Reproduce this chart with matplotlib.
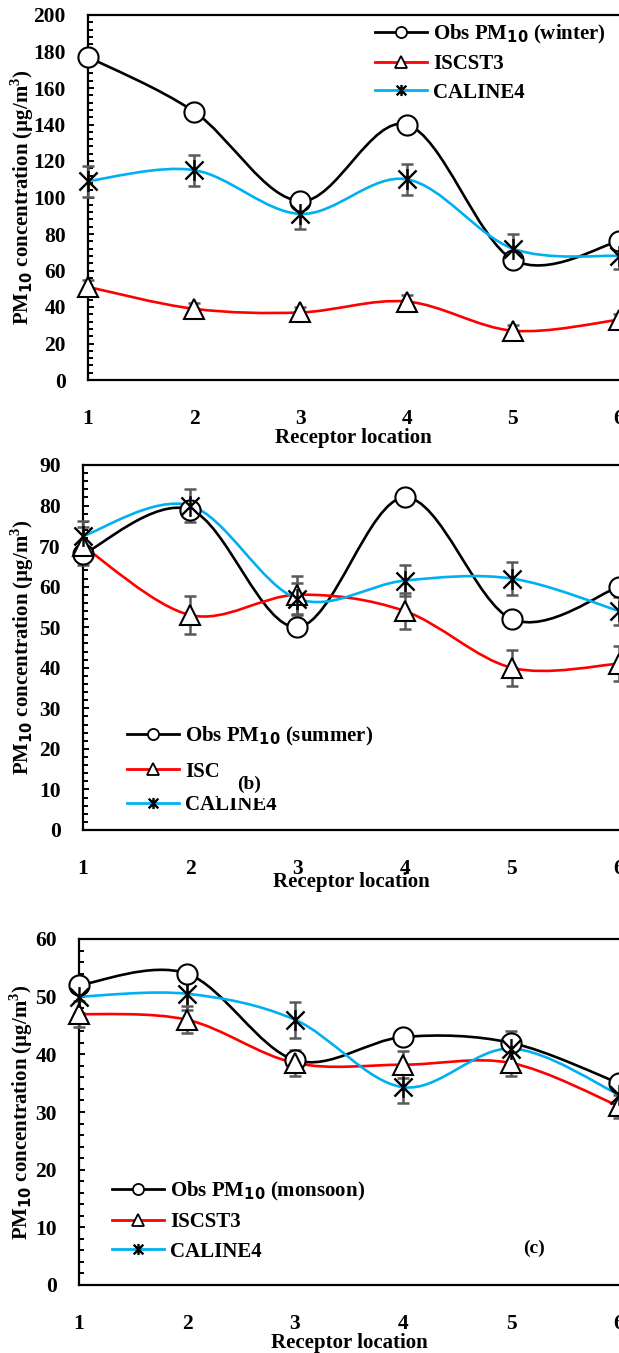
import matplotlib
matplotlib.use("Agg")
import matplotlib.pyplot as plt
from matplotlib.path import Path
from matplotlib.patches import PathPatch, Rectangle
from matplotlib.lines import Line2D
from matplotlib.ticker import MultipleLocator

plt.rcParams['font.family'] = ['Liberation Serif', 'DejaVu Serif']
plt.rcParams['font.weight'] = 'bold'
plt.rcParams['axes.labelweight'] = 'bold'
plt.rcParams['mathtext.fontset'] = 'custom'
plt.rcParams['mathtext.rm'] = 'Liberation Serif:bold'
plt.rcParams['mathtext.sf'] = 'DejaVu Sans:bold'

locations = [1, 2, 3, 4, 5, 6]

# winter (a)
obs_winter = [177, 147, 98, 140, 66, 76]
isc_winter = [51, 39, 37, 43, 27, 33]
isc_winter_err = [4, 3, 3, 3.5, 3, 3]
cal_winter = [109, 115, 91, 110, 72, 68]
cal_winter_err = [8.5, 8.5, 8.5, 8.5, 8, 7]

# summer (b)
obs_summer = [68, 79, 50, 82, 52, 60]
isc_summer = [70, 53, 58, 54, 40, 41]
isc_summer_err = [4.7, 4.6, 4.7, 4.5, 4.5, 4.3]
cal_summer = [72.5, 80, 57, 61.5, 62, 54]
cal_summer_err = [3.7, 4, 4, 3.8, 4, 3.5]

# monsoon (c)
obs_monsoon = [52, 54, 39, 43, 42, 35]
isc_monsoon = [47, 46, 38.5, 38.2, 38.5, 31]
isc_monsoon_err = [2.3, 2.3, 2.3, 2.3, 2.3, 2]
cal_monsoon = [50, 50.5, 46, 34.3, 41, 33]
cal_monsoon_err = [2.8, 2.8, 3.1, 2.8, 3, 2.5]

BLUE = '#00B0F0'
RED = '#FF0000'
GREY = '#595959'
FS = 15

star = Path([(-1, -1), (1, 1), (-1, 1), (1, -1), (0, -1.15), (0, 1.15)],
            [Path.MOVETO, Path.LINETO, Path.MOVETO, Path.LINETO, Path.MOVETO, Path.LINETO])


def smooth_path(x, y):
    # excel-like smoothed line: bezier segments through the points
    pts = list(zip(x, y))
    n = len(pts)
    verts = [pts[0]]
    codes = [Path.MOVETO]
    for i in range(n - 1):
        p0 = pts[max(i - 1, 0)]
        p1 = pts[i]
        p2 = pts[i + 1]
        p3 = pts[min(i + 2, n - 1)]
        c1 = (p1[0] + (p2[0] - p0[0]) / 6, p1[1] + (p2[1] - p0[1]) / 6)
        c2 = (p2[0] - (p3[0] - p1[0]) / 6, p2[1] - (p3[1] - p1[1]) / 6)
        verts += [c1, c2, p2]
        codes += [Path.CURVE4] * 3
    return Path(verts, codes)


def draw_panel(ax, obs, isc, isc_err, cal, cal_err, ymax, major, minor):
    for vals, col in [(obs, 'black'), (isc, RED), (cal, BLUE)]:
        ax.add_patch(PathPatch(smooth_path(locations, vals), fill=False,
                               ec=col, lw=1.9, zorder=2))
    ax.errorbar(locations, isc, yerr=isc_err, fmt='none', ecolor=GREY,
                elinewidth=1.8, capsize=4.5, capthick=1.8, zorder=3, clip_on=False)
    ax.errorbar(locations, cal, yerr=cal_err, fmt='none', ecolor=GREY,
                elinewidth=1.8, capsize=4.5, capthick=1.8, zorder=3, clip_on=False)
    ax.plot(locations, obs, ls='none', marker='o', ms=14.5, mfc='white',
            mec='black', mew=1.5, zorder=4, clip_on=False)
    ax.plot(locations, isc, ls='none', marker='^', ms=14.5, mfc='white',
            mec='black', mew=1.5, zorder=4, clip_on=False)
    ax.plot(locations, cal, ls='none', marker=star, ms=15, mfc='none',
            mec='black', mew=1.7, zorder=5, clip_on=False)

    ax.set_xlim(1, 6)
    ax.set_ylim(0, ymax)
    ax.set_xticks(locations)
    ax.yaxis.set_major_locator(MultipleLocator(major))
    ax.yaxis.set_minor_locator(MultipleLocator(minor))
    ax.tick_params(axis='x', length=0, pad=21, labelsize=FS + 0.5)
    ax.tick_params(axis='y', which='major', direction='in', length=4.5,
                   width=1.4, pad=16, labelsize=FS + 0.5)
    ax.tick_params(axis='y', which='minor', direction='in', length=3.5, width=1.4)
    for s in ['left', 'bottom', 'top']:
        ax.spines[s].set_linewidth(1.6)
    ax.spines['right'].set_visible(False)
    ax.set_ylabel('PM$_{\\mathsf{10}}$ concentration (µg/m$^{\\mathrm{3}}$)',
                  fontsize=FS, fontweight='bold')
    ax.yaxis.label.set_va('center')
    ax.set_xlabel('Receptor location', fontsize=FS, fontweight='bold')
    ax.xaxis.label.set_va('center')


def legend_handles(season):
    labels = ['Obs PM$_{\\mathsf{10}}$ (%s)' % season, 'ISCST3', 'CALINE4']
    h = [Line2D([], [], color='black', lw=2, marker='o', ms=8, mfc='white', mec='black', mew=1.3),
         Line2D([], [], color=RED, lw=2, marker='^', ms=8, mfc='white', mec='black', mew=1.3),
         Line2D([], [], color=BLUE, lw=2, marker=star, ms=8, mfc='none', mec='black', mew=1.7)]
    return h, labels


W, H = 619, 1353
fig = plt.figure(figsize=(W / 100, H / 100), dpi=100)


def px_axes(left, top, bottom, right=W):
    return fig.add_axes([left / W, 1 - bottom / H, (right - left) / W, (bottom - top) / H])


ax1 = px_axes(88, 15, 380)
draw_panel(ax1, obs_winter, isc_winter, isc_winter_err, cal_winter, cal_winter_err, 200, 20, 4)
ax1.yaxis.set_label_coords((22 - 88) / 531, 0.5)
ax1.xaxis.set_label_coords(0.5, (380 - 438) / 365)
h, l = legend_handles('winter')
ax1.legend(h, l, loc='upper left', bbox_to_anchor=(375 / W, 1 - 23 / H),
           bbox_transform=fig.transFigure, frameon=False, fontsize=FS,
           handlelength=2.5, handletextpad=0.3, labelspacing=0.4, borderpad=0, borderaxespad=0)
ax1.text(253, 100, '(a)', transform=None, fontsize=FS - 1, ha='center', va='center')

ax2 = px_axes(83, 465, 830)
draw_panel(ax2, obs_summer, isc_summer, isc_summer_err, cal_summer, cal_summer_err, 90, 10, 2)
ax2.yaxis.set_label_coords((22 - 83) / 536, 0.5)
ax2.xaxis.set_label_coords(0.5, (830 - 882) / 365)
h, l = legend_handles('summer')
ax2.legend(h, l, loc='upper left', bbox_to_anchor=(127 / W, 1 - 725 / H),
           bbox_transform=fig.transFigure, frameon=False, fontsize=FS,
           handlelength=2.5, handletextpad=0.3, labelspacing=0.65, borderpad=0, borderaxespad=0)

ax3 = px_axes(79, 939, 1285)
draw_panel(ax3, obs_monsoon, isc_monsoon, isc_monsoon_err, cal_monsoon, cal_monsoon_err, 60, 10, 2)
ax3.yaxis.set_label_coords((21 - 79) / 540, 0.5)
ax3.xaxis.set_label_coords(0.5, (1285 - 1343) / 346)
h, l = legend_handles('monsoon')
ax3.legend(h, l, loc='upper left', bbox_to_anchor=(112 / W, 1 - 1180 / H),
           bbox_transform=fig.transFigure, frameon=False, fontsize=FS,
           handlelength=2.5, handletextpad=0.3, labelspacing=0.45, borderpad=0, borderaxespad=0)
fig.text(534 / W, 1 - 1248 / H, '(c)', fontsize=FS - 1, ha='center', va='center')

# white masks that hide part of the summer legend, as in the source figure
fig.add_artist(Rectangle((218 / W, 1 - 798 / H), 62 / W, 50 / H, transform=fig.transFigure,
                         fc='white', ec='none', zorder=10))
fig.add_artist(Rectangle((120 / W, 1 - 827 / H), 170 / W, 17 / H, transform=fig.transFigure,
                         fc='white', ec='none', zorder=10))
fig.text(249 / W, 1 - 784 / H, '(b)', fontsize=FS - 1, ha='center', va='center', zorder=11)

fig.savefig('out.png', dpi=100)
